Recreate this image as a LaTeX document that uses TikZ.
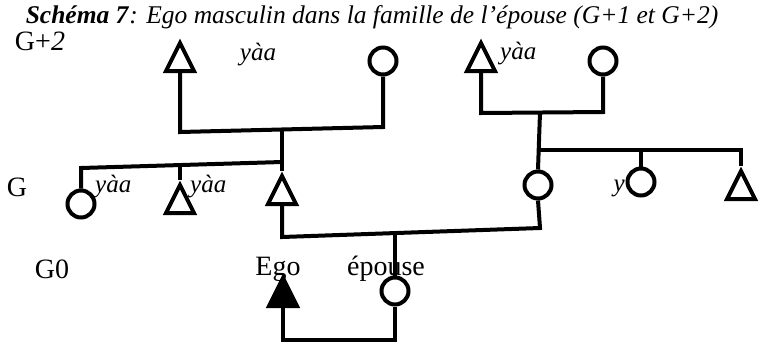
\documentclass[tikz,border=0pt]{standalone}
\usepackage{fontspec}
\setmainfont{Liberation Serif}
\usetikzlibrary{shapes.geometric}
\begin{document}
\begin{tikzpicture}[x=1pt,y=-1pt,
  lbl/.style={font=\fontsize{28}{30}\selectfont, inner sep=0pt},
  ylbl/.style={font=\fontsize{25}{27}\selectfont\itshape, inner sep=0pt},
  tri/.style={draw, line width=4pt, isosceles triangle, shape border rotate=90,
     isosceles triangle stretches, minimum width=28pt, minimum height=28pt,
     inner sep=0pt, anchor=south, line join=miter},
  circ/.style={draw, circle, line width=4pt, minimum size=27pt, inner sep=0pt},
  kin/.style={line width=4pt, line join=miter}]
\useasboundingbox (0,0) rectangle (759,346);
% title
\node[inner sep=0pt, font=\fontsize{25.5}{28}\selectfont] (title) at (372,17)
  {\textbf{\textit{Schéma 7}}\textit{: Ego masculin dans la famille de l’épouse (G+1 et G+2)}};
% generation labels
\node[lbl] (g2) at (40,41) {G+\textit{2}};
\node[lbl] (g1) at (17,187) {G};
\node[lbl] (g0) at (52,269) {G0};
% G+2 left couple
\node[tri] (tl) at (180,73) {};
\node[circ] (tlc) at (383,61) {};
% G+2 right couple
\node[tri] (tr) at (481,73) {};
\node[circ] (trc) at (603,61) {};
% G+1 left siblings
\node[circ] (ga) at (81,204) {};
\node[tri] (gb) at (180,215) {};
\node[tri] (gc) at (282,206) {};
% G+1 right siblings
\node[circ] (rc) at (538,185) {};
\node[circ] (rd) at (641,182) {};
\node[tri] (re) at (741,201) {};
% G0
\node[tri, fill=black] (ego) at (283,308) {};
\node[circ] (ep) at (395,291) {};
% junction coordinates
\coordinate (a1) at (180,132);
\coordinate (a2) at (383,127);
\coordinate (am) at (282,129.5);
\coordinate (b1) at (481,113);
\coordinate (b2) at (603,112);
\coordinate (bm) at (540,112.5);
\coordinate (c1) at (81,168);
\coordinate (c2) at (282,162);
\coordinate (cb) at (180,165);
\coordinate (d1) at (540,150);
\coordinate (d2) at (741,150);
\coordinate (dm) at (641,150);
\coordinate (e1) at (282,237);
\coordinate (e2) at (540,228);
\coordinate (em) at (395,233);
\coordinate (f1) at (283,340);
\coordinate (f2) at (395,340);
% connectors
\draw[kin] (tl.south) -- (a1) -- (a2) -- (tlc.south);
\draw[kin] (am) -- (gc.apex);
\draw[kin] (tr.south) -- (b1) -- (b2) -- (trc.south);
\draw[kin] (bm) -- (rc.north);
\draw[kin] (ga.north) -- (c1) -- (c2);
\draw[kin] (cb) -- (gb.apex);
\draw[kin] (d1) -- (d2) -- (re.apex);
\draw[kin] (dm) -- (rd.north);
\draw[kin] (gc.south) -- (e1) -- (e2) -- (rc.south);
\draw[kin] (em) -- (ep.north);
\draw[kin] (ego.south) -- (f1) -- (f2) -- (ep.south);
% labels
\node[ylbl] (y1) at (258,55) {yàa};
\node[ylbl, anchor=west] (y2) at (500,54) {yàa};
\node[ylbl, anchor=west] (y3) at (95,187) {yàa};
\node[ylbl, anchor=west] (y4) at (190,187) {yàa};
\node[ylbl, anchor=east] (y5) at (625,188) {y};
\node[lbl] (egol) at (278,269) {Ego};
\node[lbl] (epl) at (386,269) {épouse};
\end{tikzpicture}
\end{document}
